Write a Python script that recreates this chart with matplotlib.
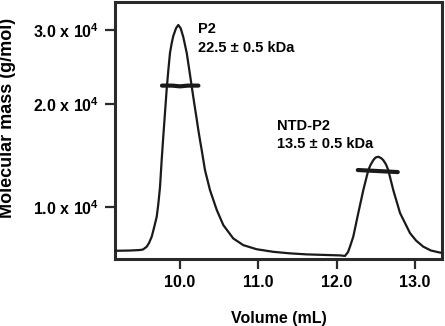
import matplotlib
matplotlib.use('Agg')
import matplotlib.pyplot as plt
import numpy as np

plt.rcParams['font.family'] = ['Liberation Sans', 'DejaVu Sans']
plt.rcParams['font.weight'] = 'bold'
plt.rcParams['mathtext.default'] = 'regular'

# elution trace (volume in mL, detector signal, arbitrary units)
volume = [9.17, 9.36, 9.489, 9.528, 9.575, 9.604, 9.639, 9.668, 9.703, 9.723,
          9.745, 9.766, 9.787, 9.809, 9.830, 9.851, 9.872, 9.894, 9.914,
          9.949, 9.978, 10.009, 10.042, 10.086, 10.119, 10.149, 10.170,
          10.191, 10.213, 10.234, 10.255, 10.277, 10.319, 10.383, 10.469,
          10.553, 10.680, 10.808, 10.979, 11.191, 11.404, 11.617, 11.829,
          12.043, 12.106, 12.145, 12.170, 12.212, 12.276, 12.340, 12.404,
          12.432, 12.468, 12.496, 12.532, 12.566, 12.595, 12.630, 12.659,
          12.723, 12.809, 12.936, 13.013, 13.106, 13.204, 13.319, 13.345]
signal = [0.032, 0.033, 0.035, 0.037, 0.048, 0.062, 0.087, 0.121, 0.165, 0.214,
          0.281, 0.385, 0.479, 0.572, 0.661, 0.735, 0.802, 0.840, 0.868,
          0.898, 0.911, 0.898, 0.864, 0.802, 0.735, 0.673, 0.630,
          0.588, 0.545, 0.502, 0.463, 0.424, 0.346, 0.268, 0.191,
          0.132, 0.080, 0.054, 0.038, 0.028, 0.022, 0.018, 0.016,
          0.014, 0.012, 0.027, 0.048, 0.087, 0.179, 0.268, 0.346,
          0.366, 0.385, 0.395, 0.398, 0.393, 0.385, 0.368, 0.346,
          0.268, 0.179, 0.101, 0.072, 0.048, 0.033, 0.025, 0.024]

# molar mass across each peak (x 10^4 g/mol)
p2_vol = [9.77, 9.90, 10.00, 10.10, 10.235]
p2_mass = [2.25, 2.25, 2.24, 2.25, 2.25]
ntd_vol = [12.27, 12.40, 12.53, 12.66, 12.78]
ntd_mass = [1.36, 1.355, 1.35, 1.345, 1.34]

mass_ticks = [1.0, 2.0, 3.0]
mass_labels = ['1.0 x 10$^{4}$', '2.0 x 10$^{4}$', '3.0 x 10$^{4}$']
vol_ticks = [10.0, 11.0, 12.0, 13.0]

# the mass axis of the original figure is not evenly spaced
scale_mass = [0.496, 1.0, 2.0, 3.0, 3.378]
scale_frac = [0.0, 0.202, 0.603, 0.891, 1.0]


def fwd(m):
    return np.interp(m, scale_mass, scale_frac)


def inv(f):
    return np.interp(f, scale_frac, scale_mass)


fig = plt.figure(figsize=(4.45, 3.26), dpi=100)
ax = fig.add_axes([0.2584, 0.2055, 0.7349, 0.788])
ax.set_yscale('function', functions=(fwd, inv))
ax.set_ylim(scale_mass[0], scale_mass[-1])
ax.set_xlim(9.17, 13.345)

tw = ax.twinx()
tw.set_ylim(0, 1)
tw.set_yticks([])
for s in tw.spines.values():
    s.set_visible(False)

tw.plot(volume, signal, color='#1a1a1a', lw=1.6, solid_capstyle='round',
        solid_joinstyle='round')
ax.plot(p2_vol, p2_mass, color='#1a1a1a', lw=3.0, solid_capstyle='round')
ax.plot(ntd_vol, ntd_mass, color='#1a1a1a', lw=3.0, solid_capstyle='round')

ax.set_yticks(mass_ticks)
ax.set_yticklabels(mass_labels)
ax.set_xticks(vol_ticks)
ax.set_xticklabels(['%.1f' % v for v in vol_ticks])
ax.minorticks_off()

for s in ax.spines.values():
    s.set_linewidth(2.2)
    s.set_color('#2a2a2a')
ax.tick_params(direction='out', length=7.5, width=1.6, color='#2a2a2a',
               labelsize=11.5, pad=4)

ax.set_xlabel('Volume (mL)', fontsize=11.5, fontweight='bold', labelpad=15)
ax.set_ylabel('Molecular mass (g/mol)', fontsize=13, fontweight='bold')
ax.yaxis.set_label_coords(-0.302, 0.549)

ax.text(10.23, 2.885, 'P2\n22.5 ± 0.5 kDa', fontsize=10.5, fontweight='bold',
        va='center', ha='left', linespacing=1.4)
ax.text(11.24, 1.70, 'NTD-P2\n13.5 ± 0.5 kDa', fontsize=10.5, fontweight='bold',
        va='center', ha='left', linespacing=1.4)

fig.savefig('out.png', dpi=100)
